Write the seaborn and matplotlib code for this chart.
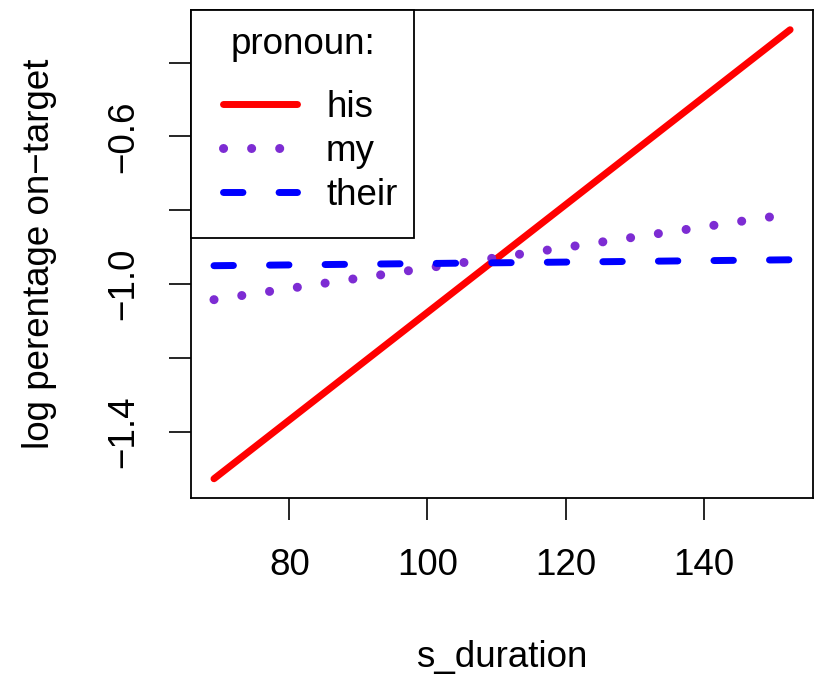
import matplotlib
matplotlib.use("Agg")
import matplotlib.pyplot as plt
from matplotlib.offsetbox import HPacker, VPacker, DrawingArea
import seaborn as sns
import pandas as pd

# data (straight fitted lines, endpoints)
s_duration = [69.1, 152.5]
his = [-1.527, -0.311]
my = [-1.042, -0.810]
their = [-0.950, -0.934]
pronouns = ["his", "my", "their"]
colors = {"his": "#FF0000", "my": "#7D2CD3", "their": "#0000FF"}
x_ticks = [80, 100, 120, 140]
y_ticks = [-1.4, -1.2, -1.0, -0.8, -0.6, -0.4]
y_labels = ["\u22121.4", "", "\u22121.0", "", "\u22120.6", ""]

df = pd.DataFrame({
    "s_duration": s_duration * 3,
    "value": his + my + their,
    "pronoun": [p for p in pronouns for _ in s_duration],
})

sns.set_style("ticks")
plt.rcParams["font.family"] = ["Liberation Sans", "DejaVu Sans"]
for k in ["text.color", "axes.labelcolor", "xtick.color", "ytick.color", "axes.edgecolor"]:
    plt.rcParams[k] = "black"
fs = 26.5

fig = plt.figure(figsize=(8.17, 6.77), dpi=100)
ax = fig.add_axes([0.234, 0.265, 0.761, 0.72])

sns.lineplot(data=df, x="s_duration", y="value", hue="pronoun", style="pronoun",
             hue_order=pronouns, style_order=pronouns, palette=colors,
             dashes={"his": "", "my": (0.01, 3.1), "their": (2.8, 5.2)},
             linewidth=5, legend=False, ax=ax)
lines = ax.get_lines()
for ln in lines:
    ln.set_dash_capstyle("round")
    ln.set_solid_capstyle("round")
lines[1].set_linewidth(6.5)

ax.set_xlim(65.8, 155.8)
ax.set_ylim(-1.578, -0.258)
ax.set_xticks(x_ticks)
ax.set_xticklabels([str(t) for t in x_ticks], fontsize=fs)
ax.set_yticks(y_ticks)
ax.set_yticklabels(y_labels, fontsize=fs, rotation=90, va="center")
ax.tick_params(axis="both", length=16, width=1.2, color="black", pad=20)
for sp in ax.spines.values():
    sp.set_visible(True)
    sp.set_linewidth(1.3)

ax.set_xlabel("s_duration", fontsize=fs, va="center")
ax.set_ylabel("log perentage on\u2212target", fontsize=fs, va="center")
ax.xaxis.set_label_coords(0.5, -0.328)
ax.yaxis.set_label_coords(-0.244, 0.5)

leg = ax.legend(lines, pronouns, title="pronoun:", loc="upper left",
                bbox_to_anchor=(0, 1), borderaxespad=0, fontsize=fs,
                title_fontsize=fs, frameon=True, fancybox=False,
                handlelength=2.0, handletextpad=0.8, labelspacing=0.24,
                borderpad=0.45)
# R puts more room left of the keys and under the last entry
hb = leg._legend_handle_box
shifted = HPacker(pad=0, sep=0, align="top", children=[DrawingArea(11, 1), hb])
padded = VPacker(pad=0, sep=0, align="left", children=[shifted, DrawingArea(1, 6)])
padded.set_figure(fig)
leg._legend_box._children[1] = padded
leg._legend_box.sep = 20.4
leg.get_frame().set_edgecolor("black")
leg.get_frame().set_linewidth(1.3)
leg.get_frame().set_alpha(1)

fig.savefig("out.png", dpi=100)
